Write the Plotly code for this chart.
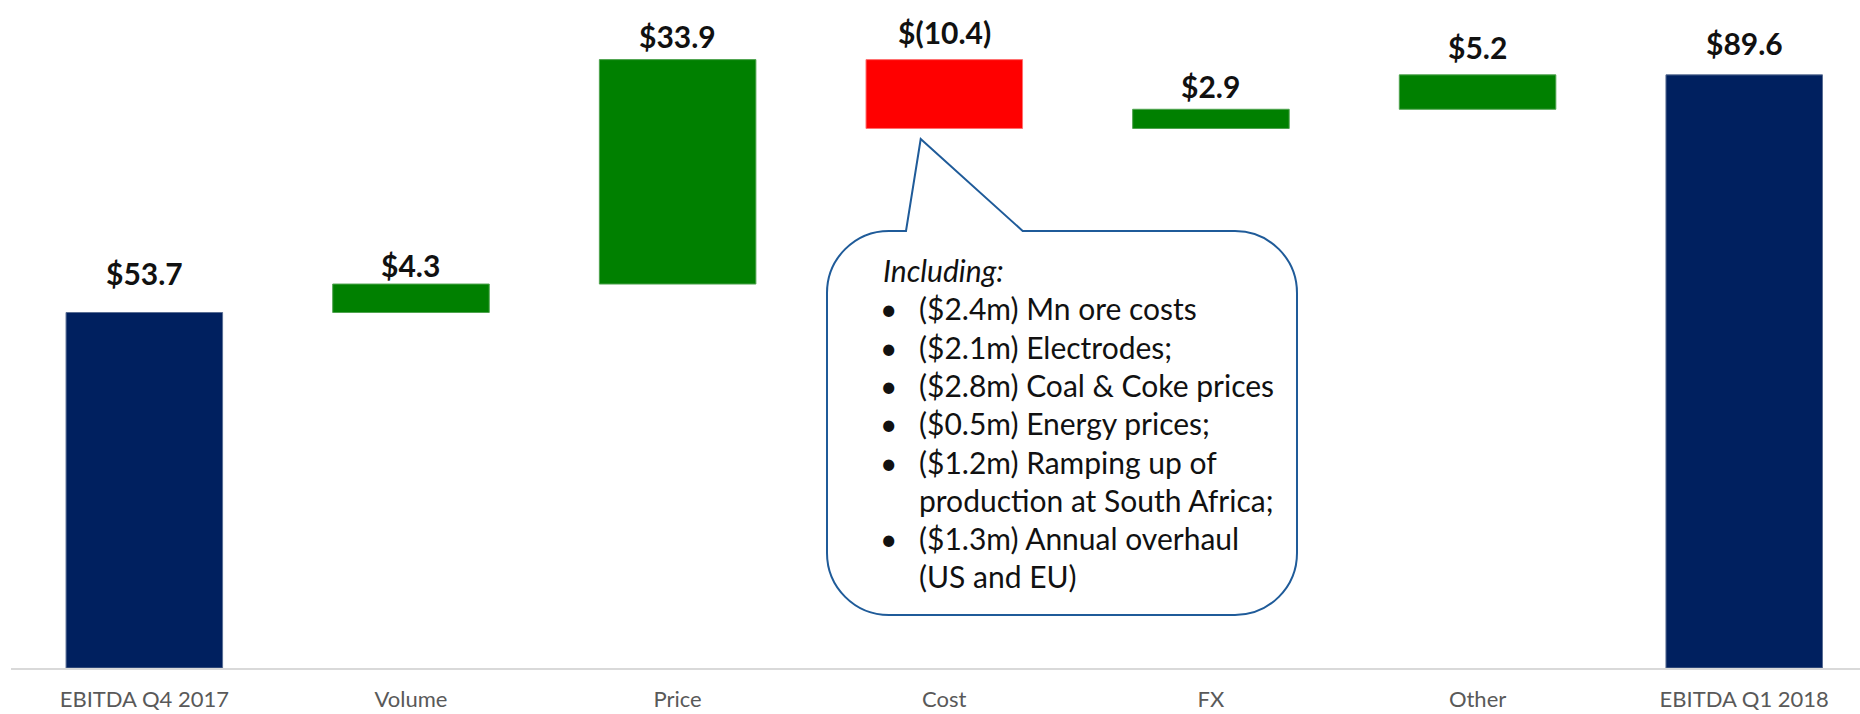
import plotly.graph_objects as go

# ---------------- data ----------------
categories = ["EBITDA Q4 2017", "Volume", "Price", "Cost", "FX", "Other", "EBITDA Q1 2018"]
values = [53.7, 4.3, 33.9, -10.4, 2.9, 5.2, 89.6]
measures = ["absolute", "relative", "relative", "relative", "relative", "relative", "total"]
value_labels = ["$53.7", "$4.3", "$33.9", "$(10.4)", "$2.9", "$5.2", "$89.6"]
callout_title = "Including:"
callout_lines = [
    ("•", "($2.4m) Mn ore costs"),
    ("•", "($2.1m) Electrodes;"),
    ("•", "($2.8m) Coal & Coke prices"),
    ("•", "($0.5m) Energy prices;"),
    ("•", "($1.2m) Ramping up of"),
    ("", "production at South Africa;"),
    ("•", "($1.3m) Annual overhaul"),
    ("", "(US and EU)"),
]

# ---------------- styles / layout ----------------
NAVY = "#00205F"
GREEN = "#008000"
RED = "#FF0000"
FONT = "Lato, 'Open Sans', sans-serif"
label_shift_px = [40, 19, 24, 28, 23, 28, 32]

L, R, T, B = 11, 0, 6, 46
W, H = 1860 - L - R, 714 - T - B

def px(x):
    return (x - L) / W

def py(y):
    return (T + H - y) / H

fig = go.Figure(go.Waterfall(
    x=categories,
    y=values,
    measure=measures,
    width=0.587,
    increasing=dict(marker=dict(color=GREEN, line=dict(color="#4FA34F", width=1))),
    decreasing=dict(marker=dict(color=RED, line=dict(color="#FF7070", width=1))),
    totals=dict(marker=dict(color=NAVY, line=dict(color="#5A6E94", width=1))),
    connector=dict(visible=False),
    hoverinfo="skip",
))

# value labels above each bar's top
running = 0.0
annotations = []
for i, (cat, v, m, lab) in enumerate(zip(categories, values, measures, value_labels)):
    if m == "absolute":
        start, end = 0.0, v
        running = v
    elif m == "total":
        start, end = 0.0, running
    else:
        start, end = running, running + v
        running = end
    top = max(start, end)
    annotations.append(dict(
        x=cat, y=top, xref="x", yref="y", text=lab, showarrow=False,
        yanchor="middle", yshift=label_shift_px[i],
        font=dict(family=FONT, size=30, color="#111111", weight="bold"),
    ))

# callout speech bubble
bx0, bx1, by0, by1, r = 827, 1297, 231, 615, 62
k = 0.5523 * r
tail = [(906, 231), (920.7, 139), (1022.7, 231)]

def P(x, y):
    return f"{px(x):.5f},{py(y):.5f}"

path = f"M {P(bx0 + r, by0)} "
for (tx, ty) in tail:
    path += f"L {P(tx, ty)} "
path += f"L {P(bx1 - r, by0)} "
path += f"C {P(bx1 - r + k, by0)} {P(bx1, by0 + r - k)} {P(bx1, by0 + r)} "
path += f"L {P(bx1, by1 - r)} "
path += f"C {P(bx1, by1 - r + k)} {P(bx1 - r + k, by1)} {P(bx1 - r, by1)} "
path += f"L {P(bx0 + r, by1)} "
path += f"C {P(bx0 + r - k, by1)} {P(bx0, by1 - r + k)} {P(bx0, by1 - r)} "
path += f"L {P(bx0, by0 + r)} "
path += f"C {P(bx0, by0 + r - k)} {P(bx0 + r - k, by0)} {P(bx0 + r, by0)} Z"

shapes = [dict(type="path", xref="paper", yref="paper", path=path,
               fillcolor="white", line=dict(color="#1F5B99", width=2), layer="above")]

line_y0, line_dy = 270, 38.3
annotations.append(dict(
    x=px(881), y=py(line_y0), xref="paper", yref="paper", xanchor="left", yanchor="middle",
    text=f"<i>{callout_title}</i>", showarrow=False,
    font=dict(family=FONT, size=30, color="#111111"),
))
for j, (bul, txt) in enumerate(callout_lines):
    yy = py(line_y0 + line_dy * (j + 1))
    if bul:
        annotations.append(dict(
            x=px(888), y=yy, xref="paper", yref="paper", xanchor="center", yanchor="middle",
            text=bul, showarrow=False, font=dict(family=FONT, size=30, color="#111111"),
        ))
    annotations.append(dict(
        x=px(917), y=yy, xref="paper", yref="paper", xanchor="left", yanchor="middle",
        text=txt, showarrow=False, font=dict(family=FONT, size=30, color="#111111"),
    ))

fig.update_layout(
    width=1860, height=714,
    margin=dict(l=L, r=R, t=T, b=B, autoexpand=False),
    plot_bgcolor="white", paper_bgcolor="white",
    showlegend=False,
    shapes=shapes,
    annotations=annotations,
    xaxis=dict(
        type="category", range=[-0.5, -0.5 + W / 266.65],
        showline=True, linecolor="#D9D9D9", linewidth=2,
        showgrid=False, zeroline=False, ticks="",
        ticklabelstandoff=11,
        tickfont=dict(family=FONT, size=22, color="#595959"),
        fixedrange=True,
    ),
    yaxis=dict(range=[0, H / 6.62], visible=False, showgrid=False, zeroline=False, fixedrange=True),
)

fig.write_html("out.html", config={"displayModeBar": False},
               post_script="document.body.style.margin='0px';")
